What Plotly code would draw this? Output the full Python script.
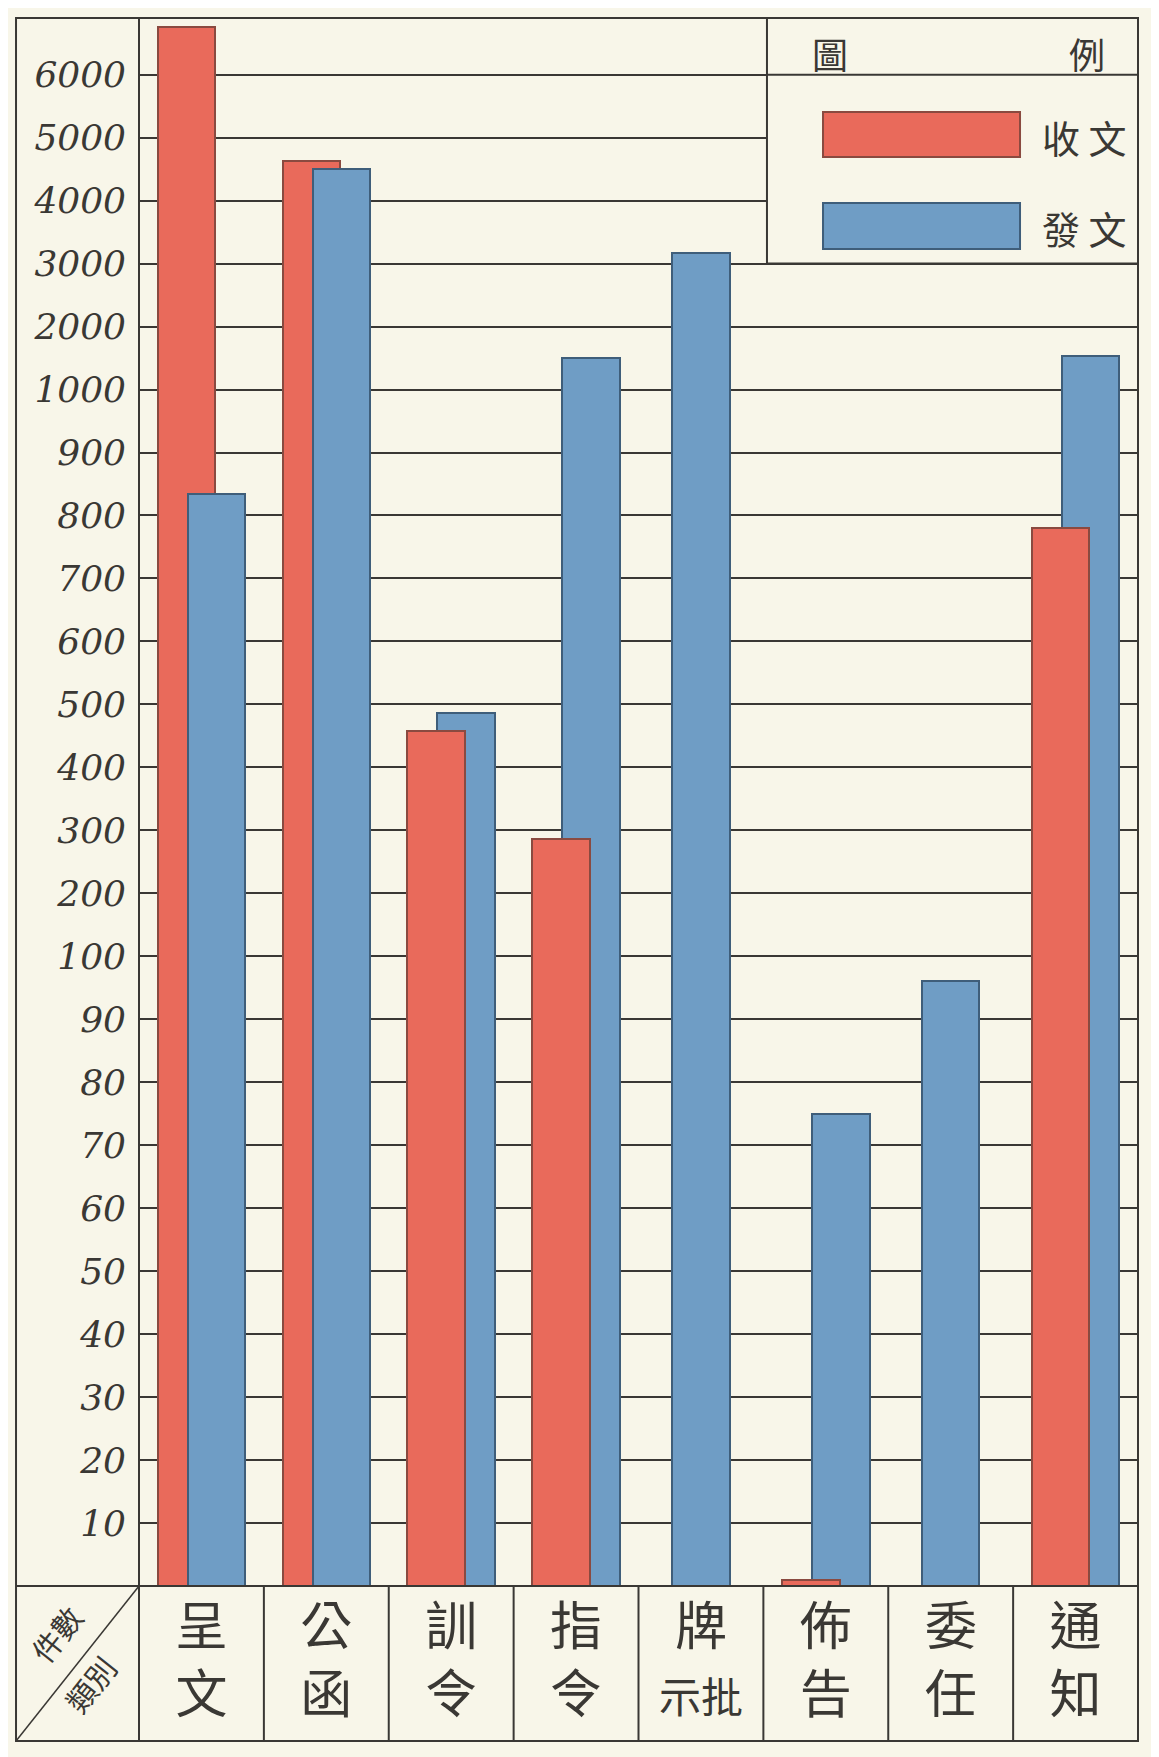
import plotly.graph_objects as go

# 類別
categories = ['呈文', '公函', '訓令', '指令', '牌示批', '佈告', '委任', '通知']
category_labels = ['呈<br>文', '公<br>函', '訓<br>令', '指<br>令',
                   '牌<br><span style="font-size:42px">示批</span>',
                   '佈<br>告', '委<br>任', '通<br>知']

# 件數
received = [6760, 4630, 457, 287, 0, 1, 0, 780]    # 收文
sent = [834, 4510, 486, 1500, 3170, 75, 96, 1530]   # 發文

# y tick values of the hand-drawn (piecewise) scale
tick_values = [10, 20, 30, 40, 50, 60, 70, 80, 90,
               100, 200, 300, 400, 500, 600, 700, 800, 900,
               1000, 2000, 3000, 4000, 5000, 6000]
tick_labels = [str(t) for t in tick_values]

RED = '#e96a5b'
BLUE = '#6f9dc5'
PAPER = '#f8f6e9'
INK = '#3a3834'


def to_pos(v):
    # each decade gets its own evenly spaced ladder of steps
    if v <= 100:
        return v / 10
    if v <= 1000:
        return 9 + v / 100
    return 18 + v / 1000


W = 0.46
red_off = -0.35
blue_off = -0.11

red_pos = [to_pos(v) for v in received]
blue_pos = [to_pos(v) for v in sent]
blue_offsets = [blue_off if r > 0 else -W / 2 for r in received]

# the shorter bar of each pair is drawn in front
blue_back = [b if b >= r else None for b, r in zip(blue_pos, red_pos)]
blue_front = [b if b < r else None for b, r in zip(blue_pos, red_pos)]

fig = go.Figure()
fig.add_trace(go.Bar(x=categories, y=blue_back, width=W, offset=blue_offsets,
                     marker=dict(color=BLUE, line=dict(color='#3f5e7a', width=2)),
                     name='發文', showlegend=False))
fig.add_trace(go.Bar(x=categories, y=red_pos, width=W, offset=red_off,
                     marker=dict(color=RED, line=dict(color='#8a4a40', width=2)),
                     name='收文', showlegend=False))
fig.add_trace(go.Bar(x=categories, y=blue_front, width=W, offset=blue_offsets,
                     marker=dict(color=BLUE, line=dict(color='#3f5e7a', width=2)),
                     name='發文', showlegend=False))

line = dict(color=INK, width=2)
shapes = []
# outer frame
shapes.append(dict(type='rect', xref='paper', yref='paper', x0=-0.1231, x1=1.0,
                   y0=-0.0989, y1=1.0, line=line, layer='above'))
# y-axis panel border and baseline
shapes.append(dict(type='line', xref='paper', yref='paper', x0=0, x1=0,
                   y0=-0.0989, y1=1.0, line=line, layer='above'))
shapes.append(dict(type='line', xref='paper', yref='paper', x0=-0.1231, x1=1.0,
                   y0=0, y1=0, line=line, layer='above'))
# diagonal in the corner cell
shapes.append(dict(type='line', xref='paper', yref='paper', x0=-0.1231, x1=0,
                   y0=-0.0989, y1=0, line=dict(color=INK, width=1.5), layer='above'))
# category dividers in the bottom row
for i in range(len(categories) - 1):
    shapes.append(dict(type='line', xref='x', yref='paper', x0=i + 0.5, x1=i + 0.5,
                       y0=-0.0989, y1=0, line=line, layer='above'))

# legend box (圖例)
lg_x0 = 0.6286
shapes.append(dict(type='rect', xref='paper', yref='y', x0=lg_x0, x1=1.0,
                   y0=to_pos(3000), y1=24.9, fillcolor=PAPER, line=line, layer='above'))
shapes.append(dict(type='line', xref='paper', yref='y', x0=lg_x0, x1=1.0,
                   y0=to_pos(6000), y1=to_pos(6000), line=line, layer='above'))
shapes.append(dict(type='rect', xref='paper', yref='paper', x0=0.6847, x1=0.8819,
                   y0=0.9114, y1=0.940, fillcolor=RED,
                   line=dict(color='#8a4a40', width=2), layer='above'))
shapes.append(dict(type='rect', xref='paper', yref='paper', x0=0.6847, x1=0.8819,
                   y0=0.8527, y1=0.882, fillcolor=BLUE,
                   line=dict(color='#3f5e7a', width=2), layer='above'))

cjk = 'Noto Sans CJK TC'


def note(text, x, y, size, angle=0):
    return dict(text=text, x=x, y=y, xref='paper', yref='paper', showarrow=False,
                xanchor='center', yanchor='middle', textangle=angle,
                font=dict(family=cjk, size=size, color=INK))


annotations = [
    note('圖', 0.6917, 0.9777, 36),
    note('例', 0.949, 0.9777, 36),
    note('收 文', 0.946, 0.9247, 38),
    note('發 文', 0.946, 0.8664, 38),
    note('件數', -0.0831, -0.0306, 30, -51.6),
    note('類別', -0.049, -0.0625, 30, -51.6),
]

# the page body adds an 8px margin, so the figure is drawn 8px smaller
fig.update_layout(
    width=1151, height=1749,
    margin=dict(l=131, r=21, t=10, b=171),
    paper_bgcolor=PAPER, plot_bgcolor=PAPER,
    barmode='overlay', bargap=0,
    shapes=shapes, annotations=annotations,
    showlegend=False,
)
fig.update_xaxes(type='category', categoryorder='array', categoryarray=categories,
                 range=[-0.5, 7.5], showgrid=False, zeroline=False, showline=False,
                 tickvals=categories, ticktext=category_labels, ticks='',
                 ticklabelstandoff=6,
                 tickfont=dict(family=cjk, size=52, color=INK), fixedrange=True)
fig.update_yaxes(range=[0, 24.9], tickvals=[to_pos(t) for t in tick_values],
                 ticktext=tick_labels, showgrid=True, gridcolor=INK, gridwidth=2,
                 zeroline=False, showline=False, ticks='', ticklabelstandoff=12,
                 tickfont=dict(family='DejaVu Serif', size=36, color=INK, style='italic'),
                 fixedrange=True)

fig.write_html('out.html')
